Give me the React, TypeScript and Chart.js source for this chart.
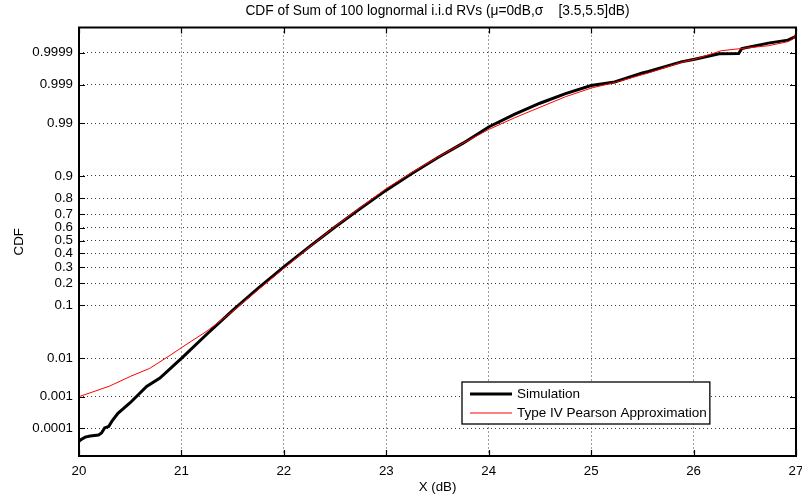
import React, { useEffect, useRef } from "react";
import { Chart, registerables } from "chart.js";

Chart.register(...registerables);

// ---------------- Data ----------------
const TITLE = "CDF of Sum of 100 lognormal i.i.d RVs (\u03bc=0dB,\u03c3    [3.5,5.5]dB)";
const X_LABEL = "X (dB)";
const Y_LABEL = "CDF";

const xTicks = [20, 21, 22, 23, 24, 25, 26, 27];
const yTickProbs = [0.0001, 0.001, 0.01, 0.1, 0.2, 0.3, 0.4, 0.5, 0.6, 0.7, 0.8, 0.9, 0.99, 0.999, 0.9999];
const yTickLabels = ["0.0001", "0.001", "0.01", "0.1", "0.2", "0.3", "0.4", "0.5", "0.6", "0.7", "0.8", "0.9", "0.99", "0.999", "0.9999"];

const seriesNames = ["Simulation", "Type IV Pearson Approximation"];

// Simulation (empirical CDF)
const simX = [
  20.0, 20.01, 20.06, 20.11, 20.19, 20.22, 20.25, 20.29, 20.32, 20.38, 20.5, 20.66, 20.79, 21.0,
  21.25, 21.5, 21.75, 22.0, 22.25, 22.5, 22.75, 23.0, 23.25, 23.5, 23.75, 24.0, 24.25, 24.5, 24.75,
  25.0, 25.23, 25.5, 25.56, 25.88, 26.01, 26.25, 26.44, 26.47, 26.73, 26.92, 27.0,
];
const simCdf = [
  0.0000345, 0.000039, 0.00005, 0.0000544, 0.000059, 0.0000695, 0.000104, 0.000117, 0.000172, 0.000313,
  0.000664, 0.00193, 0.00326, 0.0099, 0.0322, 0.0838, 0.1736, 0.3015, 0.4522, 0.6064, 0.7389, 0.8413,
  0.9082, 0.9495, 0.9732, 0.9878, 0.99379, 0.99674, 0.99819, 0.99893, 0.999155, 0.99955, 0.999596,
  0.9998, 0.999835, 0.999892, 0.999894, 0.999928, 0.999954, 0.999964, 0.999974,
];

// Type IV Pearson approximation
const pearX = [
  20.0, 20.3, 20.5, 20.69, 20.89, 21.0, 21.25, 21.5, 21.75, 22.0, 22.25, 22.5, 22.75, 23.0, 23.25,
  23.5, 23.75, 24.0, 24.25, 24.5, 24.75, 25.0, 25.23, 25.56, 25.88, 26.01, 26.27, 26.47, 26.73, 26.92,
  26.97, 27.0,
];
const pearCdf = [
  0.001, 0.00199, 0.00357, 0.0057, 0.0116, 0.017, 0.0367, 0.0808, 0.166, 0.2912, 0.4483, 0.6103,
  0.7454, 0.8485, 0.9115, 0.9505, 0.9732, 0.9861, 0.99245, 0.99585, 0.99781, 0.998736, 0.999126,
  0.99955, 0.999792, 0.999835, 0.999915, 0.999929, 0.999943, 0.999959, 0.999967, 0.999981,
];

// ---------------- Helpers ----------------
function probit(p: number): number {
  const a = [-3.969683028665376e1, 2.209460984245205e2, -2.759285104469687e2, 1.38357751867269e2, -3.066479806614716e1, 2.506628277459239];
  const b = [-5.447609879822406e1, 1.615858368580409e2, -1.556989798598866e2, 6.680131188771972e1, -1.328068155288572e1];
  const c = [-7.784894002430293e-3, -3.223964580411365e-1, -2.400758277161838, -2.549732539343734, 4.374664141464968, 2.938163982698783];
  const d = [7.784695709041462e-3, 3.224671290700398e-1, 2.445134137142996, 3.754408661907416];
  const plow = 0.02425;
  const phigh = 1 - plow;
  if (p < plow) {
    const q = Math.sqrt(-2 * Math.log(p));
    return (((((c[0] * q + c[1]) * q + c[2]) * q + c[3]) * q + c[4]) * q + c[5]) / ((((d[0] * q + d[1]) * q + d[2]) * q + d[3]) * q + 1);
  }
  if (p <= phigh) {
    const q = p - 0.5;
    const r = q * q;
    return ((((((a[0] * r + a[1]) * r + a[2]) * r + a[3]) * r + a[4]) * r + a[5]) * q) / (((((b[0] * r + b[1]) * r + b[2]) * r + b[3]) * r + b[4]) * r + 1);
  }
  const q = Math.sqrt(-2 * Math.log(1 - p));
  return -(((((c[0] * q + c[1]) * q + c[2]) * q + c[3]) * q + c[4]) * q + c[5]) / ((((d[0] * q + d[1]) * q + d[2]) * q + d[3]) * q + 1);
}

const FONT = "'Liberation Sans', Arial, Helvetica, sans-serif";

const frameAndLegend = {
  id: "frameAndLegend",
  afterDraw(chart: any) {
    const { ctx, chartArea } = chart;
    const { left, right, top, bottom } = chartArea;
    const xs = chart.scales.x;
    const ys = chart.scales.y;
    ctx.save();
    // inward ticks
    ctx.strokeStyle = "#000";
    ctx.lineWidth = 1.2;
    const tl = 6;
    ctx.beginPath();
    xTicks.forEach((v) => {
      const px = Math.round(xs.getPixelForValue(v)) + 0.5;
      ctx.moveTo(px, bottom);
      ctx.lineTo(px, bottom - tl);
      ctx.moveTo(px, top);
      ctx.lineTo(px, top + tl);
    });
    yTickProbs.forEach((p) => {
      const py = Math.round(ys.getPixelForValue(probit(p))) + 0.5;
      ctx.moveTo(left, py);
      ctx.lineTo(left + tl, py);
      ctx.moveTo(right, py);
      ctx.lineTo(right - tl, py);
    });
    ctx.stroke();
    // frame
    ctx.lineWidth = 2;
    ctx.strokeRect(left, top, right - left, bottom - top);

    // legend
    const bx = left + 383;
    const by = bottom - 74;
    const bh = 42;
    ctx.font = `13.5px ${FONT}`;
    const textX = bx + 55;
    let maxW = 0;
    seriesNames.forEach((n) => (maxW = Math.max(maxW, ctx.measureText(n).width)));
    const bw = textX - bx + maxW + 3;
    ctx.fillStyle = "#fff";
    ctx.fillRect(bx, by, bw, bh);
    ctx.lineWidth = 1.3;
    ctx.strokeStyle = "#000";
    ctx.strokeRect(bx, by, bw, bh);
    const rows = [
      { y: by + 12, color: "#000", w: 3 },
      { y: by + 31, color: "#ff0000", w: 1 },
    ];
    rows.forEach((r, i) => {
      ctx.strokeStyle = r.color;
      ctx.lineWidth = r.w;
      ctx.beginPath();
      ctx.moveTo(bx + 8, r.y);
      ctx.lineTo(bx + 50, r.y);
      ctx.stroke();
      ctx.fillStyle = "#000";
      ctx.textBaseline = "middle";
      ctx.textAlign = "left";
      ctx.fillText(seriesNames[i], textX, r.y);
    });
    ctx.restore();
  },
};

export default function App() {
  const ref = useRef<HTMLCanvasElement | null>(null);

  useEffect(() => {
    if (!ref.current) return;
    const chart = new Chart(ref.current, {
      type: "line",
      data: {
        datasets: [
          {
            label: seriesNames[0],
            data: simX.map((x, i) => ({ x, y: probit(simCdf[i]) })),
            borderColor: "#000",
            borderWidth: 3,
            pointRadius: 0,
            tension: 0,
            fill: false,
            order: 1,
          },
          {
            label: seriesNames[1],
            data: pearX.map((x, i) => ({ x, y: probit(pearCdf[i]) })),
            borderColor: "#ff0000",
            borderWidth: 1,
            pointRadius: 0,
            tension: 0,
            fill: false,
            order: 0,
          },
        ],
      },
      plugins: [frameAndLegend],
      options: {
        responsive: false,
        animation: false,
        events: [],
        layout: { padding: { left: 0, right: 6, top: 0, bottom: 0 } },
        plugins: {
          legend: { display: false },
          tooltip: { enabled: false },
          title: {
            display: true,
            text: TITLE,
            fullSize: false,
            color: "#000",
            font: { family: FONT, size: 13.75, weight: "normal", lineHeight: 1.2 },
            padding: { top: 3, bottom: 8 },
          },
        },
        scales: {
          x: {
            type: "linear",
            min: 20,
            max: 27,
            afterBuildTicks: (s: any) => {
              s.ticks = xTicks.map((v) => ({ value: v }));
            },
            afterFit: (s: any) => {
              s.height = 45;
              s.paddingLeft = 0;
              s.paddingRight = 0;
            },
            ticks: {
              color: "#000",
              font: { family: FONT, size: 13.3 },
              padding: 7,
              maxRotation: 0,
              callback: (v: any) => String(v),
            },
            grid: { color: "#3a3a3a", lineWidth: 1, drawTicks: false },
            border: { display: false, dash: [1, 3] },
            title: {
              display: true,
              text: X_LABEL,
              color: "#000",
              font: { family: FONT, size: 13.3 },
              padding: { top: 0, bottom: 6 },
            },
          },
          y: {
            type: "linear",
            min: -4.265,
            max: 4.22,
            afterBuildTicks: (s: any) => {
              s.ticks = yTickProbs.map((p) => ({ value: probit(p) }));
            },
            afterFit: (s: any) => {
              s.width = 79;
              s.paddingTop = 0;
              s.paddingBottom = 0;
            },
            ticks: {
              color: "#000",
              font: { family: FONT, size: 13.3 },
              padding: 6,
              autoSkip: false,
              callback: (_v: any, i: number) => yTickLabels[i],
            },
            grid: { color: "#3a3a3a", lineWidth: 1, drawTicks: false },
            border: { display: false, dash: [1, 3] },
            title: {
              display: true,
              text: Y_LABEL,
              color: "#000",
              font: { family: FONT, size: 13.3 },
              padding: { top: 11, bottom: 0 },
            },
          },
        },
      },
    });
    return () => chart.destroy();
  }, []);

  return (
    <div style={{ position: "fixed", left: 0, top: 0, width: 802, height: 501, background: "#fff" }}>
      <canvas ref={ref} width={802} height={501} style={{ display: "block" }} />
    </div>
  );
}
